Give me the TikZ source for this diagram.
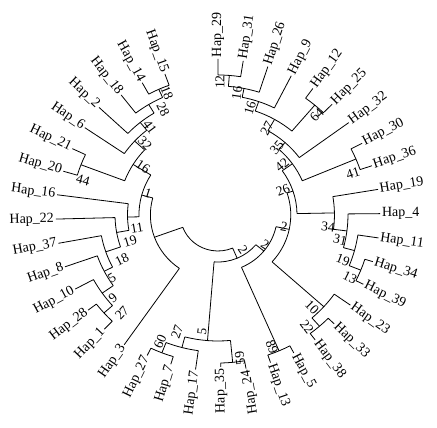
\documentclass[tikz,border=0pt]{standalone}
\usepackage{fontspec}
\setmainfont{Liberation Serif}
\begin{document}
\begin{tikzpicture}[
x=1.04pt, y=1pt,
line width=0.8pt,
hap/.style={font=\fontsize{14}{16}\selectfont, inner sep=1.5pt},
hapR/.style={hap, anchor=west, rotate=#1},
hapL/.style={hap, anchor=east, rotate=#1+180},
boot/.style={font=\fontsize{13.5}{15}\selectfont, inner sep=0pt, rotate=#1}
]
\useasboundingbox (-209.6,-213) rectangle (210.6,215);

% tips
\coordinate (h29) at (90:156);      \node[hapR=90] (l29) at (h29) {Hap\_29};
\coordinate (h31) at (81.05:156);   \node[hapR=81.05] (l31) at (h31) {Hap\_31};
\coordinate (h26) at (72.1:156);    \node[hapR=72.1] (l26) at (h26) {Hap\_26};
\coordinate (h9) at (63.15:156);    \node[hapR=63.15] (l9) at (h9) {Hap\_9};
\coordinate (h12) at (54.2:156);    \node[hapR=54.2] (l12) at (h12) {Hap\_12};
\coordinate (h25) at (45.25:156);   \node[hapR=45.25] (l25) at (h25) {Hap\_25};
\coordinate (h32) at (36.3:156);    \node[hapR=36.3] (l32) at (h32) {Hap\_32};
\coordinate (h30) at (27.35:156);   \node[hapR=27.35] (l30) at (h30) {Hap\_30};
\coordinate (h36) at (18.4:156);    \node[hapR=18.4] (l36) at (h36) {Hap\_36};
\coordinate (h19) at (9.45:156);    \node[hapR=9.45] (l19) at (h19) {Hap\_19};
\coordinate (h4) at (0.5:156);      \node[hapR=0.5] (l4) at (h4) {Hap\_4};
\coordinate (h11) at (-8.45:156);   \node[hapR=-8.45] (l11) at (h11) {Hap\_11};
\coordinate (h34) at (-17.4:156);   \node[hapR=-17.4] (l34) at (h34) {Hap\_34};
\coordinate (h39) at (-26.35:156);  \node[hapR=-26.35] (l39) at (h39) {Hap\_39};
\coordinate (h23) at (-35.3:156);   \node[hapR=-35.3] (l23) at (h23) {Hap\_23};
\coordinate (h33) at (-44.25:156);  \node[hapR=-44.25] (l33) at (h33) {Hap\_33};
\coordinate (h38) at (-53.2:156);   \node[hapR=-53.2] (l38) at (h38) {Hap\_38};
\coordinate (h5) at (-62.15:156);   \node[hapR=-62.15] (l5) at (h5) {Hap\_5};
\coordinate (h13) at (-71.1:156);   \node[hapR=-71.1] (l13) at (h13) {Hap\_13};
\coordinate (h24) at (-80.05:156);  \node[hapL=-80.05] (l24) at (h24) {Hap\_24};
\coordinate (h35) at (-89:152);     \node[hapL=-89] (l35) at (h35) {Hap\_35};
\coordinate (h17) at (-97.95:156);  \node[hapL=-97.95] (l17) at (h17) {Hap\_17};
\coordinate (h7) at (-106.9:156);   \node[hapL=-106.9] (l7) at (h7) {Hap\_7};
\coordinate (h27) at (-115.85:156); \node[hapL=-115.85] (l27) at (h27) {Hap\_27};
\coordinate (h3) at (-124.8:158);   \node[hapL=-124.8] (l3) at (h3) {Hap\_3};
\coordinate (h1) at (-133.75:158);  \node[hapL=-133.75] (l1) at (h1) {Hap\_1};
\coordinate (h28) at (-142.7:157);  \node[hapL=-142.7] (l28) at (h28) {Hap\_28};
\coordinate (h10) at (-151.65:156); \node[hapL=-151.65] (l10) at (h10) {Hap\_10};
\coordinate (h8) at (-160.6:156);   \node[hapL=-160.6] (l8) at (h8) {Hap\_8};
\coordinate (h37) at (-169.55:156); \node[hapL=-169.55] (l37) at (h37) {Hap\_37};
\coordinate (h22) at (-178.5:156);  \node[hapL=-178.5] (l22) at (h22) {Hap\_22};
\coordinate (h16) at (-187.45:156); \node[hapL=-187.45] (l16) at (h16) {Hap\_16};
\coordinate (h20) at (-196.4:155);  \node[hapL=-196.4] (l20) at (h20) {Hap\_20};
\coordinate (h21) at (-205.35:155); \node[hapL=-205.35] (l21) at (h21) {Hap\_21};
\coordinate (h6) at (-214.3:155);   \node[hapL=-214.3] (l6) at (h6) {Hap\_6};
\coordinate (h2) at (-223.25:157);  \node[hapL=-223.25] (l2) at (h2) {Hap\_2};
\coordinate (h18) at (-232.2:152);  \node[hapL=-232.2] (l18) at (h18) {Hap\_18};
\coordinate (h14) at (-241.15:151); \node[hapL=-241.15] (l14) at (h14) {Hap\_14};
\coordinate (h15) at (-250.1:150);  \node[hapL=-250.1] (l15) at (h15) {Hap\_15};

% inner nodes
\coordinate (n12) at (85.53:140);
\coordinate (n16a) at (78.815:129);
\coordinate (n16b) at (70.98:120);
\coordinate (n64) at (49.725:144);
\coordinate (n27) at (60.354:110);
\coordinate (n35) at (48.327:97);
\coordinate (n41) at (22.875:144);
\coordinate (n42) at (35.601:88);
\coordinate (n13) at (-21.875:148);
\coordinate (n19) at (-15.1625:136);
\coordinate (n31) at (-7.331:125);
\coordinate (n34) at (1.06:112);
\coordinate (n26) at (18.33:76);
\coordinate (n22) at (-48.725:148);
\coordinate (n10) at (-42.0125:137);
\coordinate (nZ) at (-11.841:70);
\coordinate (n89) at (-66.625:148);
\coordinate (nY) at (-39.233:57);
\coordinate (n59) at (-84.525:148);
\coordinate (n60) at (-111.375:148);
\coordinate (n27c) at (-104.6625:137);
\coordinate (n5) at (-94.594:126);
\coordinate (nX) at (-66.91:47);
\coordinate (n27b) at (-138.225:147);
\coordinate (n9) at (-144.9375:136);
\coordinate (n5b) at (-152.769:123);
\coordinate (n18b) at (-161.159:114);
\coordinate (n19b) at (-169.83:99);
\coordinate (n11) at (-178.64:87);
\coordinate (n44) at (-200.875:141);
\coordinate (n18) at (-245.625:138);
\coordinate (n28) at (-238.9125:129);
\coordinate (n41b) at (-231.081:119);
\coordinate (n32) at (-222.69:109);
\coordinate (n16c) at (-211.78:96);
\coordinate (n1) at (-195.21:76);
\coordinate (nL) at (-160.005:65);

% branches, one arc per clade
\draw (81.05:140) arc[start angle=81.05, end angle=90, radius=140] (90:140) -- (h29) (81.05:140) -- (h31);
\draw (72.1:129) arc[start angle=72.1, end angle=85.53, radius=129] (85.53:129) -- (n12) (72.1:129) -- (h26);
\draw (63.15:120) arc[start angle=63.15, end angle=78.815, radius=120] (78.815:120) -- (n16a) (63.15:120) -- (h9);
\draw (45.25:144) arc[start angle=45.25, end angle=54.2, radius=144] (54.2:144) -- (h12) (45.25:144) -- (h25);
\draw (49.725:110) arc[start angle=49.725, end angle=70.98, radius=110] (70.98:110) -- (n16b) (49.725:110) -- (n64);
\draw (36.3:97) arc[start angle=36.3, end angle=60.354, radius=97] (60.354:97) -- (n27) (36.3:97) -- (h32);
\draw (18.4:144) arc[start angle=18.4, end angle=27.35, radius=144] (27.35:144) -- (h30) (18.4:144) -- (h36);
\draw (22.875:88) arc[start angle=22.875, end angle=48.327, radius=88] (48.327:88) -- (n35) (22.875:88) -- (n41);
\draw (-26.35:148) arc[start angle=-26.35, end angle=-17.4, radius=148] (-17.4:148) -- (h34) (-26.35:148) -- (h39);
\draw (-21.875:136) arc[start angle=-21.875, end angle=-8.45, radius=136] (-8.45:136) -- (h11) (-21.875:136) -- (n13);
\draw (-15.1625:125) arc[start angle=-15.1625, end angle=0.5, radius=125] (0.5:125) -- (h4) (-15.1625:125) -- (n19);
\draw (-7.331:112) arc[start angle=-7.331, end angle=9.45, radius=112] (9.45:112) -- (h19) (-7.331:112) -- (n31);
\draw (1.06:76) arc[start angle=1.06, end angle=35.601, radius=76] (35.601:76) -- (n42) (1.06:76) -- (n34);
\draw (-53.2:148) arc[start angle=-53.2, end angle=-44.25, radius=148] (-44.25:148) -- (h33) (-53.2:148) -- (h38);
\draw (-48.725:137) arc[start angle=-48.725, end angle=-35.3, radius=137] (-35.3:137) -- (h23) (-48.725:137) -- (n22);
\draw (-42.0125:70) arc[start angle=-42.0125, end angle=18.33, radius=70] (18.33:70) -- (n26) (-42.0125:70) -- (n10);
\draw (-71.1:148) arc[start angle=-71.1, end angle=-62.15, radius=148] (-62.15:148) -- (h5) (-71.1:148) -- (h13);
\draw (-66.625:57) arc[start angle=-66.625, end angle=-11.841, radius=57] (-11.841:57) -- (nZ) (-66.625:57) -- (n89);
\draw (-89:148) arc[start angle=-89, end angle=-80.05, radius=148] (-80.05:148) -- (h24) (-89:148) -- (h35);
\draw (-115.85:148) arc[start angle=-115.85, end angle=-106.9, radius=148] (-106.9:148) -- (h7) (-115.85:148) -- (h27);
\draw (-111.375:137) arc[start angle=-111.375, end angle=-97.95, radius=137] (-97.95:137) -- (h17) (-111.375:137) -- (n60);
\draw (-104.6625:126) arc[start angle=-104.6625, end angle=-84.525, radius=126] (-84.525:126) -- (n59) (-104.6625:126) -- (n27c);
\draw (-94.594:47) arc[start angle=-94.594, end angle=-39.233, radius=47] (-39.233:47) -- (nY) (-94.594:47) -- (n5);
\draw (-142.7:147) arc[start angle=-142.7, end angle=-133.75, radius=147] (-133.75:147) -- (h1) (-142.7:147) -- (h28);
\draw (-151.65:136) arc[start angle=-151.65, end angle=-138.225, radius=136] (-138.225:136) -- (n27b) (-151.65:136) -- (h10);
\draw (-160.6:123) arc[start angle=-160.6, end angle=-144.9375, radius=123] (-144.9375:123) -- (n9) (-160.6:123) -- (h8);
\draw (-169.55:114) arc[start angle=-169.55, end angle=-152.769, radius=114] (-152.769:114) -- (n5b) (-169.55:114) -- (h37);
\draw (-178.5:99) arc[start angle=-178.5, end angle=-161.159, radius=99] (-161.159:99) -- (n18b) (-178.5:99) -- (h22);
\draw (-187.45:87) arc[start angle=-187.45, end angle=-169.83, radius=87] (-169.83:87) -- (n19b) (-187.45:87) -- (h16);
\draw (-205.35:141) arc[start angle=-205.35, end angle=-196.4, radius=141] (-196.4:141) -- (h20) (-205.35:141) -- (h21);
\draw (-250.1:138) arc[start angle=-250.1, end angle=-241.15, radius=138] (-241.15:138) -- (h14) (-250.1:138) -- (h15);
\draw (-245.625:129) arc[start angle=-245.625, end angle=-232.2, radius=129] (-232.2:129) -- (h18) (-245.625:129) -- (n18);
\draw (-238.9125:119) arc[start angle=-238.9125, end angle=-223.25, radius=119] (-223.25:119) -- (h2) (-238.9125:119) -- (n28);
\draw (-231.081:109) arc[start angle=-231.081, end angle=-214.3, radius=109] (-214.3:109) -- (h6) (-231.081:109) -- (n41b);
\draw (-222.69:96) arc[start angle=-222.69, end angle=-200.875, radius=96] (-200.875:96) -- (n44) (-222.69:96) -- (n32);
\draw (-211.78:76) arc[start angle=-211.78, end angle=-178.64, radius=76] (-178.64:76) -- (n11) (-211.78:76) -- (n16c);
\draw (-195.21:65) arc[start angle=-195.21, end angle=-124.8, radius=65] (-195.21:65) -- (n1) (-124.8:65) -- (h3);
% root
\draw (-160.005:36) arc[start angle=-160.005, end angle=-66.91, radius=36] (-160.005:36) -- (nL) (-66.91:36) -- (nX);

% bootstrap values
\node[boot=89.2] (b12) at (89.2:133) {12};
\node[boot=81.5] (b16a) at (81.5:123.4) {16};
\node[boot=73.9] (b16b) at (73.9:111.3) {16};
\node[boot=61.6] (b27) at (61.6:98.9) {27};
\node[boot=46.4] (b64) at (46.4:138) {64};
\node[boot=49.8] (b35) at (49.8:87.8) {35};
\node[boot=39.1] (b42) at (39.1:79.3) {42};
\node[boot=17.9] (b41) at (17.9:136.4) {41};
\node[boot=21.8] (b26) at (21.8:67.3) {26};
\node[boot=-6.5] (b34) at (-6.5:106.5) {34};
\node[boot=-12] (b31) at (-12:120) {31};
\node[boot=-20.5] (b19) at (-20.5:128.3) {19};
\node[boot=-26.4] (b13) at (-26.4:141.7) {13};
\node[boot=-10.7] (bZ) at (-10.7:64.6) {2};
\node[boot=-45.5] (b10) at (-45.5:129) {10};
\node[boot=-52.6] (b22) at (-52.6:141) {22};
\node[boot=-33.1] (bY) at (-33.1:54) {2};
\node[boot=-55.6] (bX) at (-55.6:42.4) {2};
\node[boot=-68.5] (b89) at (-68.5:141.9) {89};
\node[boot=98.4] (b59) at (-81.6:144.6) {59};
\node[boot=82.5] (b5) at (-97.5:118) {5};
\node[boot=71.4] (b27c) at (-108.6:123.5) {27};
\node[boot=66.3] (b60) at (-113.7:138.7) {60};
\node[boot=46.7] (b27b) at (-133.3:134.6) {27};
\node[boot=39.4] (b9) at (-140.6:130.7) {9};
\node[boot=31.7] (b5b) at (-148.3:119.8) {5};
\node[boot=26] (b18b) at (-154:102.7) {18};
\node[boot=17.1] (b19b) at (-162.9:88.5) {19};
\node[boot=9.5] (b11) at (-170.5:79) {11};
\node[boot=-18.1] (b1) at (161.9:70.8) {1};
\node[boot=-33.7] (b16c) at (146.3:86.6) {16};
\node[boot=-15.1] (b44) at (164.9:134.4) {44};
\node[boot=-45.7] (b32) at (134.3:100.6) {32};
\node[boot=-53.4] (b41b) at (126.6:109.6) {41};
\node[boot=-63.3] (b28) at (116.7:117.6) {28};
\node[boot=-68.1] (b18) at (111.9:131.5) {18};
\end{tikzpicture}
\end{document}
